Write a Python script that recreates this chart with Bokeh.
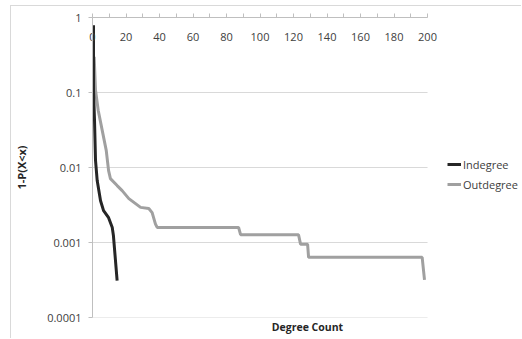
from bokeh.plotting import figure
from bokeh.models import LinearAxis, FixedTicker, Legend, LegendItem, Range1d
from bokeh.embed import file_html
from bokeh.resources import INLINE

# ---- data ----
in_x = [0.6, 0.6, 1.2, 1.8, 2.8, 4.8, 6.6, 9.6, 11.8, 12.5, 14.7]
in_y = [0.79, 0.107, 0.0426, 0.0124, 0.0067, 0.0036, 0.00266, 0.00214, 0.00158, 0.00123, 0.00031]

out_x = [1.0, 1.8, 3.4, 5.8, 8.2, 9.6, 10.7, 14.7, 17.7, 21.7, 25.7, 28.7, 33.6, 35.6,
         37.6, 38.6, 87.2, 88.4, 123.0, 124.2, 128.4, 129.0, 196.8, 198.2]
out_y = [0.30, 0.107, 0.058, 0.0313, 0.0169, 0.0091, 0.0071, 0.00574, 0.00492, 0.00385,
         0.0033, 0.00294, 0.00284, 0.0025, 0.00176, 0.00159, 0.00159, 0.00127, 0.00127,
         0.00095, 0.00095, 0.000635, 0.000635, 0.000317]

series_names = ["Indegree", "Outdegree"]
x_ticks = [0, 20, 40, 60, 80, 100, 120, 140, 160, 180, 200]
x_tick_labels = ["0", "20", "40", "60", "80", "100", "120", "140", "160", "180", "200"]
x_minor_ticks = [10, 30, 50, 70, 90, 110, 130, 150, 170, 190]
y_ticks = [0.0001, 0.001, 0.01, 0.1, 1]
y_tick_labels = ["0.0001", "0.001", "0.01", "0.1", "1"]
x_title = "Degree Count"
y_title = "1-P(X<x)"

FONT = "Open Sans"
AXIS_GREY = "#bfbfbf"
GRID = "#d9d9d9"
TEXT = "#404040"

x_lo, x_hi = x_ticks[0], x_ticks[-1]
# frame extends into the legend area on the right; x axis and grid stop at 200
x_view_hi = 256.7

p = figure(width=511, height=333, y_axis_type="log",
           x_range=Range1d(x_lo, x_view_hi), y_range=Range1d(y_ticks[0], y_ticks[-1]),
           x_axis_location="above", output_backend="svg", toolbar_location=None,
           min_border_left=81, min_border_right=0, min_border_top=11, min_border_bottom=22,
           margin=(5, 0, 0, 10),
           styles={"border-top": "1px solid #d9d9d9", "border-left": "1px solid #d9d9d9"})
p.outline_line_color = None
p.background_fill_color = "white"
p.border_fill_color = "white"

# top x axis
xa = p.xaxis[0]
xa.bounds = (x_lo, x_hi)
xa.ticker = FixedTicker(ticks=x_ticks, minor_ticks=x_minor_ticks)
xa.major_label_overrides = {t: l for t, l in zip(x_ticks, x_tick_labels)}
xa.axis_line_color = AXIS_GREY
xa.major_tick_line_color = AXIS_GREY
xa.minor_tick_line_color = AXIS_GREY
xa.major_tick_in = 0
xa.major_tick_out = 4
xa.minor_tick_in = 0
xa.minor_tick_out = 4
xa.major_label_standoff = -27
xa.major_label_text_font = FONT
xa.major_label_text_font_size = "11px"
xa.major_label_text_color = TEXT

# left y axis
ya = p.yaxis[0]
ya.ticker = FixedTicker(ticks=y_ticks)
ya.major_label_overrides = {t: l for t, l in zip(y_ticks, y_tick_labels)}
ya.axis_line_color = AXIS_GREY
ya.major_tick_line_color = AXIS_GREY
ya.minor_tick_line_color = None
ya.major_tick_in = 0
ya.major_tick_out = 4
ya.major_label_standoff = 7
ya.major_label_text_font = FONT
ya.major_label_text_font_size = "11px"
ya.major_label_text_color = TEXT
ya.axis_label = y_title
ya.axis_label_text_font = FONT
ya.axis_label_text_font_size = "11px"
ya.axis_label_text_font_style = "bold"
ya.axis_label_text_color = "#262626"
ya.axis_label_standoff = 15

# bottom axis only for the title
xb = LinearAxis(ticker=FixedTicker(ticks=[]), axis_label=x_title, bounds=(x_lo, x_hi))
xb.axis_line_color = None
xb.major_tick_line_color = None
xb.minor_tick_line_color = None
xb.major_label_text_font_size = "0px"
xb.axis_label_text_font = FONT
xb.axis_label_text_font_size = "10.5px"
xb.axis_label_text_font_style = "bold"
xb.axis_label_text_color = "#262626"
xb.axis_label_standoff = 2
p.add_layout(xb, "below")

p.xgrid.grid_line_color = None
p.ygrid.grid_line_color = None

# horizontal gridlines, limited to the x axis extent
p.segment(x0=[x_lo] * len(y_ticks), x1=[x_hi] * len(y_ticks), y0=y_ticks, y1=y_ticks,
          line_color=GRID, line_width=1)

r_out = p.line(out_x, out_y, line_color="#a0a0a0", line_width=3)
r_in = p.line(in_x, in_y, line_color="#262626", line_width=3)

legend = Legend(items=[LegendItem(label=series_names[0], renderers=[r_in]),
                       LegendItem(label=series_names[1], renderers=[r_out])],
                location=(355, 123), orientation="vertical",
                border_line_color=None, background_fill_alpha=0,
                glyph_width=14, glyph_height=20, label_height=20, label_standoff=2,
                spacing=0, padding=0, margin=0,
                label_text_font=FONT, label_text_font_size="11px", label_text_color=TEXT)
p.add_layout(legend, "center")

open("out.html", "w").write(file_html(p, INLINE))
